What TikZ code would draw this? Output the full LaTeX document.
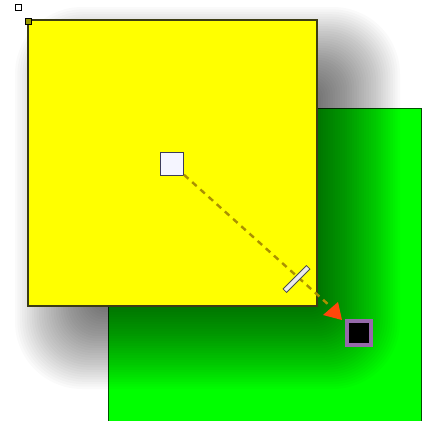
\documentclass[tikz,border=0pt]{standalone}
\definecolor{sqyellow}{RGB}{255,255,0}
\definecolor{sqgreen}{RGB}{0,255,0}
\definecolor{gborder}{RGB}{0,80,0}
\definecolor{yborder}{RGB}{60,60,20}
\definecolor{dashcol}{RGB}{170,145,0}
\definecolor{tipcol}{RGB}{255,70,10}
\definecolor{purpcol}{RGB}{150,105,170}
\definecolor{cswhite}{RGB}{245,245,255}
\definecolor{csborder}{RGB}{60,60,90}
\begin{document}
\begin{tikzpicture}[x=1pt,y=-1pt,
  handle/.style={draw=black,fill=white,line width=1pt,minimum size=6pt,inner sep=0pt},
  centersq/.style={draw=csborder,fill=cswhite,line width=1pt,minimum size=23pt,inner sep=0pt},
  barnode/.style={draw=black!70,fill=black!8,line width=0.8pt,minimum width=33pt,minimum height=5pt,inner sep=0pt,rotate=45},
  targetsq/.style={draw=purpcol,fill=black,line width=3.5pt,minimum size=24pt,inner sep=0pt},
  dashline/.style={draw=dashcol,line width=2.4pt,dash pattern=on 6pt off 5pt}]
\useasboundingbox (0,0) rectangle (424,421);
\clip (0,0) rectangle (424,421);
\fill[white] (0,0) rectangle (424,421);
% green square
\fill[sqgreen] (108,108) rectangle (421,430);
\draw[gborder,line width=1pt] (108,430) -- (108,108) -- (421,108) -- (421,430);
% soft shadow of the yellow square (offset 35, blur 48)
\foreach \k in {1,...,40} {
  \pgfmathsetmacro\e{-48+2.4*\k}
  \pgfmathsetmacro\rc{max(0.5,0.7*(\e+48))}
  \fill[black,opacity=0.018,rounded corners=\rc pt] ({63-\e},{55-\e}) rectangle ({352+\e},{341+\e});
}
% yellow square
\draw[fill=sqyellow,draw=yborder,line width=1.2pt] (28,20) rectangle (317,306);
% handles
\node[handle] (h1) at (18.5,7) {};
\node[handle,fill=sqyellow!60!black] (h2) at (28.5,21) {};
% centre square, connector and tip
\node[centersq] (cs) at (172,164) {};
\coordinate (tip) at (330,306);
\draw[dashline] (cs) -- (tip);
\node[barnode] (bar) at (296.5,279) {};
\fill[tipcol] (338,302) -- (323,315) -- (342,320) -- cycle;
\node[targetsq] (tg) at (359,333) {};
\end{tikzpicture}
\end{document}
